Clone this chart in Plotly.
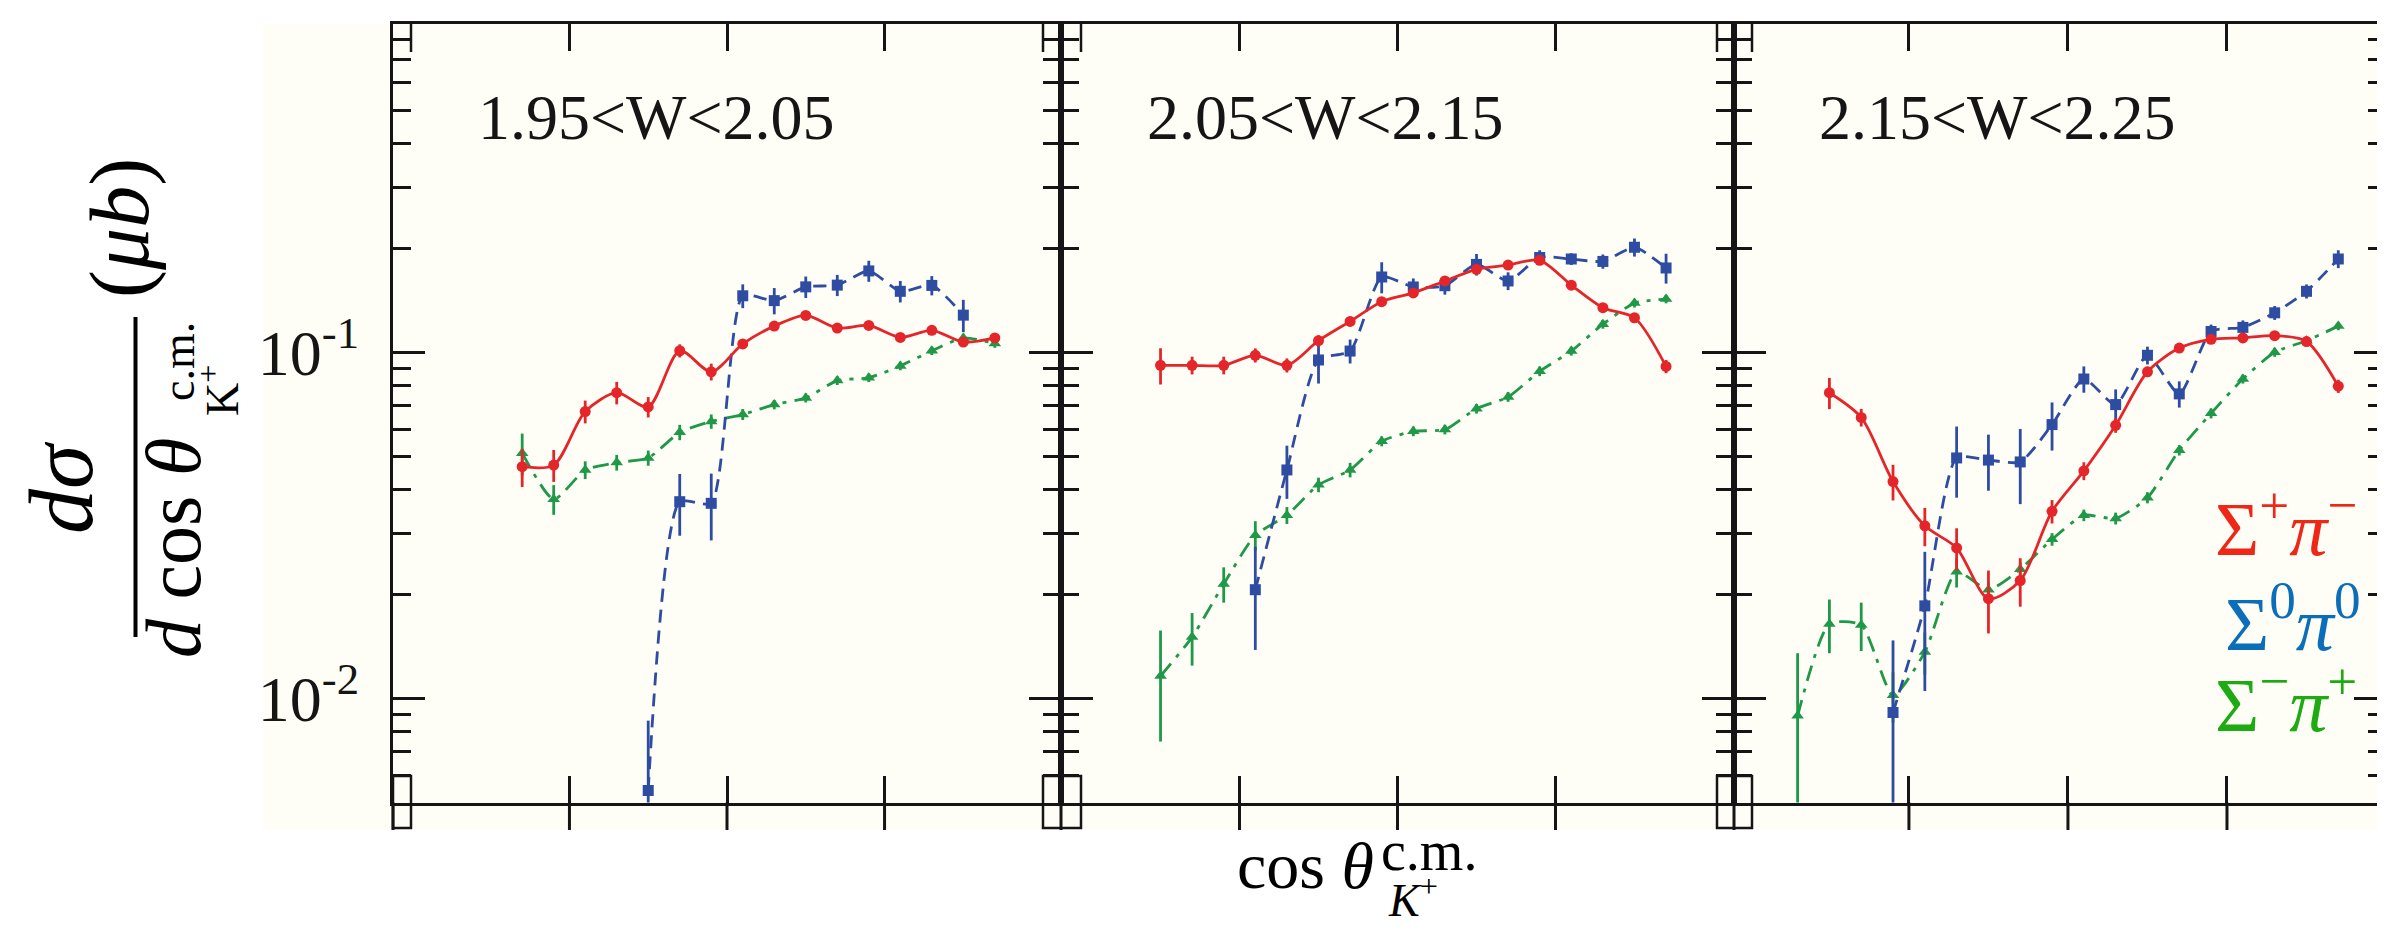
import numpy as np
import plotly.graph_objects as go

W, H = 2385, 931
SERIF = "Liberation Serif"

# ---------------- data ----------------
panel_titles = ["1.95<W<2.05", "2.05<W<2.15", "2.15<W<2.25"]

p1_red_x = [-0.65, -0.55, -0.45, -0.35, -0.25, -0.15, -0.05, 0.05, 0.15, 0.25, 0.35, 0.45, 0.55, 0.65, 0.75, 0.85]
p1_red_y = [0.0467, 0.0472, 0.0674, 0.0764, 0.0695, 0.101, 0.0878, 0.1057, 0.119, 0.1278, 0.1175, 0.1195, 0.1104, 0.1157, 0.107, 0.110]
p1_red_e = [0.0059, 0.0050, 0.0051, 0.0057, 0.0047, 0.0044, 0.0049, 0.0034, 0.0036, 0.0038, 0.0035, 0.0036, 0.0033, 0.0035, 0.0032, 0.0033]

p1_green_x = [-0.65, -0.55, -0.45, -0.35, -0.25, -0.15, -0.05, 0.05, 0.15, 0.25, 0.35, 0.45, 0.55, 0.65, 0.75, 0.85]
p1_green_y = [0.0511, 0.0376, 0.0457, 0.048, 0.0495, 0.0587, 0.0631, 0.0661, 0.0706, 0.0738, 0.0828, 0.0844, 0.0913, 0.101, 0.110, 0.106]
p1_green_e = [0.0071, 0.0037, 0.0027, 0.0025, 0.0025, 0.0030, 0.0030, 0.0024, 0.0022, 0.0022, 0.0024, 0.0024, 0.0026, 0.0028, 0.0030, 0.0030]

p1_blue_x = [-0.25, -0.15, -0.05, 0.05, 0.15, 0.25, 0.35, 0.45, 0.55, 0.65, 0.75]
p1_blue_y = [0.00542, 0.037, 0.0366, 0.1456, 0.141, 0.1545, 0.1563, 0.1718, 0.150, 0.156, 0.128]
p1_blue_e = [0.0032, 0.0075, 0.0080, 0.0115, 0.0123, 0.0110, 0.0110, 0.0120, 0.0107, 0.0100, 0.0137]

p2_red_x = [-0.75, -0.65, -0.55, -0.45, -0.35, -0.25, -0.15, -0.05, 0.05, 0.15, 0.25, 0.35, 0.45, 0.55, 0.65, 0.75, 0.85]
p2_red_y = [0.0917, 0.0917, 0.0917, 0.098, 0.0917, 0.108, 0.1228, 0.140, 0.1484, 0.1607, 0.1737, 0.1786, 0.1844, 0.1563, 0.1345, 0.1258, 0.091]
p2_red_e = [0.011, 0.0054, 0.0054, 0.0046, 0.0043, 0.0040, 0.0040, 0.0045, 0.0047, 0.0050, 0.0055, 0.0057, 0.0059, 0.0050, 0.0043, 0.0040, 0.0040]

p2_blue_x = [-0.45, -0.35, -0.25, -0.15, -0.05, 0.05, 0.15, 0.25, 0.35, 0.45, 0.55, 0.65, 0.75, 0.85]
p2_blue_y = [0.0206, 0.0457, 0.095, 0.1008, 0.165, 0.1544, 0.1557, 0.1794, 0.1607, 0.188, 0.186, 0.183, 0.201, 0.1752]
p2_blue_e = [0.0068, 0.0080, 0.0138, 0.0080, 0.0170, 0.0090, 0.0090, 0.0128, 0.0095, 0.0090, 0.0073, 0.0087, 0.0120, 0.0173]

p2_green_x = [-0.75, -0.65, -0.55, -0.45, -0.35, -0.25, -0.15, -0.05, 0.05, 0.15, 0.25, 0.35, 0.45, 0.55, 0.65, 0.75, 0.85]
p2_green_y = [0.0116, 0.01503, 0.0214, 0.0296, 0.0338, 0.0414, 0.0457, 0.0553, 0.0591, 0.0598, 0.0687, 0.0743, 0.0881, 0.1008, 0.1205, 0.1387, 0.1425]
p2_green_e = [0.0041, 0.0026, 0.0025, 0.0029, 0.0019, 0.0020, 0.0022, 0.0018, 0.0019, 0.0019, 0.0022, 0.0024, 0.0028, 0.0030, 0.0035, 0.0040, 0.0040]

p3_red_x = [-0.75, -0.65, -0.55, -0.45, -0.35, -0.25, -0.15, -0.05, 0.05, 0.15, 0.25, 0.35, 0.45, 0.55, 0.65, 0.75, 0.85]
p3_red_y = [0.0764, 0.0648, 0.0423, 0.0315, 0.0272, 0.0194, 0.0219, 0.0347, 0.0454, 0.0615, 0.0878, 0.1028, 0.109, 0.110, 0.1117, 0.1074, 0.0798]
p3_red_e = [0.0079, 0.0038, 0.0050, 0.0040, 0.0038, 0.0040, 0.0035, 0.0027, 0.0027, 0.0030, 0.0030, 0.0033, 0.0033, 0.0033, 0.0033, 0.0033, 0.0035]

p3_blue_x = [-0.55, -0.45, -0.35, -0.25, -0.15, -0.05, 0.05, 0.15, 0.25, 0.35, 0.45, 0.55, 0.65, 0.75, 0.85]
p3_blue_y = [0.0091, 0.0185, 0.0495, 0.0488, 0.0482, 0.0618, 0.0837, 0.0706, 0.098, 0.0758, 0.1148, 0.118, 0.130, 0.150, 0.186]
p3_blue_e = [0.0056, 0.0080, 0.0115, 0.0090, 0.0118, 0.0098, 0.0073, 0.0075, 0.0058, 0.0066, 0.0054, 0.0056, 0.0060, 0.0070, 0.0110]

p3_green_x = [-0.85, -0.75, -0.65, -0.55, -0.45, -0.35, -0.25, -0.15, -0.05, 0.05, 0.15, 0.25, 0.35, 0.45, 0.55, 0.65, 0.75, 0.85]
p3_green_y = [0.0089, 0.0164, 0.0163, 0.0102, 0.0136, 0.0232, 0.0206, 0.0236, 0.0288, 0.0338, 0.0331, 0.038, 0.0521, 0.0666, 0.0837, 0.100, 0.108, 0.119]
p3_green_e = [0.0046, 0.0029, 0.0026, 0.0017, 0.0019, 0.0023, 0.0010, 0.0011, 0.0012, 0.0013, 0.0013, 0.0014, 0.0018, 0.0022, 0.0025, 0.0030, 0.0030, 0.0032]

x_tickvals = [-0.5, 0.0, 0.5]
y_tickvals = [0.01, 0.1]
y_ticktext = ["10<sup>-2</sup>", "10<sup>-1</sup>"]
y_minorvals = [0.006, 0.007, 0.008, 0.009, 0.02, 0.03, 0.04, 0.05, 0.06, 0.07, 0.08, 0.09,
               0.2, 0.3, 0.4, 0.5, 0.6, 0.7, 0.8, 0.9]

legend_labels = ["Σ<sup>+</sup><i>π</i><sup>−</sup>", "Σ<sup>0</sup><i>π</i><sup>0</sup>", "Σ<sup>−</sup><i>π</i><sup>+</sup>"]

# ---------------- style ----------------
RED, BLUE, GREEN = "#e4262b", "#2e4ca2", "#1f9848"
LEG_COLORS = ["#ee2716", "#0a6fb8", "#1eaa12"]
CREAM = "#fefef6"
INK = "#151515"

panels = [
    dict(red=(p1_red_x, p1_red_y, p1_red_e), blue=(p1_blue_x, p1_blue_y, p1_blue_e),
         green=(p1_green_x, p1_green_y, p1_green_e), xr=[-1.06, 1.06], px=(385, 1053)),
    dict(red=(p2_red_x, p2_red_y, p2_red_e), blue=(p2_blue_x, p2_blue_y, p2_blue_e),
         green=(p2_green_x, p2_green_y, p2_green_e), xr=[-1.065, 1.065], px=(1053, 1726)),
    dict(red=(p3_red_x, p3_red_y, p3_red_e), blue=(p3_blue_x, p3_blue_y, p3_blue_e),
         green=(p3_green_x, p3_green_y, p3_green_e), xr=[-1.05, 1.0], px=(1726, 2378)),
]

Y_TOP_PX, Y_BOT_PX, Y_EXT_PX = 15.7, 794.5, 822
ydom = [1 - Y_BOT_PX / H, 1 - Y_TOP_PX / H]
yrange = [np.log10(0.005), -0.0506]

fig = go.Figure()

series_style = {
    "green": dict(color=GREEN, symbol="triangle-up", size=11, dash="16px,8px,4px,8px", sm=0.6),
    "blue": dict(color=BLUE, symbol="square", size=11, dash="13px,8px", sm=0.6),
    "red": dict(color=RED, symbol="circle", size=11, dash="solid", sm=0.8),
}

for i, p in enumerate(panels):
    sfx = "" if i == 0 else str(i + 1)
    for key in ["green", "blue", "red"]:
        xs, ys, es = p[key]
        st = series_style[key]
        fig.add_trace(go.Scatter(
            x=xs, y=ys, mode="lines+markers",
            xaxis="x" + sfx, yaxis="y" + sfx,
            line=dict(color=st["color"], width=2.8, dash=st["dash"], shape="spline", smoothing=st["sm"]),
            marker=dict(color=st["color"], symbol=st["symbol"], size=st["size"], line=dict(width=0)),
            error_y=dict(type="data", array=es, visible=True, color=st["color"], thickness=2.8, width=0),
            showlegend=False, hoverinfo="skip",
        ))

layout = dict(
    width=W, height=H, autosize=False,
    margin=dict(l=0, r=0, t=0, b=0, pad=0),
    paper_bgcolor="white", plot_bgcolor=CREAM,
    showlegend=False,
)


def px2p(x, y):
    return x / W, 1 - y / H


shapes = []
shapes.append(dict(type="rect", xref="paper", yref="paper", x0=255 / W, x1=1.0,
                   y0=1 - Y_EXT_PX / H, y1=1 - Y_TOP_PX / H,
                   fillcolor=CREAM, line=dict(width=0), layer="below"))

for i, p in enumerate(panels):
    sfx = "" if i == 0 else str(i + 1)
    xd = [p["px"][0] / W, p["px"][1] / W]
    layout["xaxis" + sfx] = dict(
        domain=xd, range=p["xr"], anchor="y" + sfx,
        showline=True, linecolor=INK, linewidth=3, mirror="ticks",
        ticks="inside", ticklen=27, tickwidth=3, tickcolor=INK,
        tickmode="array", tickvals=x_tickvals, showticklabels=False,
        showgrid=False, zeroline=False,
    )
    layout["yaxis" + sfx] = dict(
        type="log", domain=ydom, range=yrange, anchor="x" + sfx,
        showline=True, linecolor=INK, linewidth=3, mirror="ticks",
        ticks="inside", ticklen=32, tickwidth=3, tickcolor=INK,
        tickmode="array", tickvals=y_tickvals, ticktext=y_ticktext,
        showticklabels=(i == 0), ticklabelstandoff=18,
        tickfont=dict(family=SERIF, size=64, color=INK),
        minor=dict(tickmode="array", tickvals=y_minorvals, ticks="inside", ticklen=18,
                   tickwidth=3, tickcolor=INK, showgrid=False),
        showgrid=False, zeroline=False,
    )
    for tv in x_tickvals:
        shapes.append(dict(type="line", xref="x" + sfx, yref="paper", x0=tv, x1=tv,
                           y0=ydom[0], y1=1 - Y_EXT_PX / H, line=dict(color=INK, width=3)))

# spine extensions below the bottom line
for xpx in [385, 1053, 1726, 2378]:
    shapes.append(dict(type="line", xref="paper", yref="paper", x0=xpx / W, x1=xpx / W,
                       y0=ydom[0], y1=1 - Y_EXT_PX / H, line=dict(color=INK, width=3)))

# small frame marks at the panel corners (as in the original figure)
for (xa, xb) in [(385, 403), (1035, 1073), (1709, 1744)]:
    a0, b0 = px2p(xa, 768)
    a1, b1 = px2p(xb, 820)
    shapes.append(dict(type="rect", xref="paper", yref="paper", x0=a0, y0=b0, x1=a1, y1=b1,
                       line=dict(color=INK, width=2.5), fillcolor="rgba(0,0,0,0)"))
for xv in [403, 1035, 1073, 1709, 1744]:
    a0, b0 = px2p(xv, 15.7)
    a1, b1 = px2p(xv, 44)
    shapes.append(dict(type="line", xref="paper", yref="paper", x0=a0, y0=b0, x1=a1, y1=b1,
                       line=dict(color=INK, width=2.5)))

# fraction bar for the y title
shapes.append(dict(type="line", xref="paper", yref="paper", x0=127.5 / W, x1=127.5 / W,
                   y0=1 - 309 / H, y1=1 - 629 / H, line=dict(color="black", width=4)))


def ann(text, x, y, size, color="black", angle=0, xanchor="center"):
    return dict(text=text, x=x / W, y=1 - y / H, xref="paper", yref="paper", showarrow=False,
                font=dict(family=SERIF, size=size, color=color), textangle=angle,
                xanchor=xanchor, yanchor="middle")


anns = []
title_cx = [648, 1318, 1989]
for t, cx in zip(panel_titles, title_cx):
    anns.append(ann(t.replace("<", "&lt;"), cx, 110, 64, color=INK))

rot = [
    ("<i>dσ</i>", 54, 479, 90),
    ("<i>d</i> cos <i>θ</i>", 165, 540, 78),
    ("c.m.", 171, 354, 46),
    ("K<sup>+</sup>", 211, 383, 46),
    ("(<i>μb</i>)", 112, 220, 84),
]
flat = [
    ("cos <i>θ</i>", 1297, 857, 66),
    ("c.m.", 1421, 843, 56),
    ("<i>K</i><sup>+</sup>", 1405, 889, 46),
]
for t, x, y, s in rot:
    anns.append(ann(t, x, y, s, angle=-90))
for t, x, y, s in flat:
    anns.append(ann(t, x, y, s))

for lab, col, yy, xl in zip(legend_labels, LEG_COLORS, [515, 610, 691], [2205, 2215, 2205]):
    anns.append(ann(lab, xl, yy, 76, color=col, xanchor="left"))

layout["shapes"] = shapes
layout["annotations"] = anns
fig.update_layout(**layout)

fig.write_html("out.html")
